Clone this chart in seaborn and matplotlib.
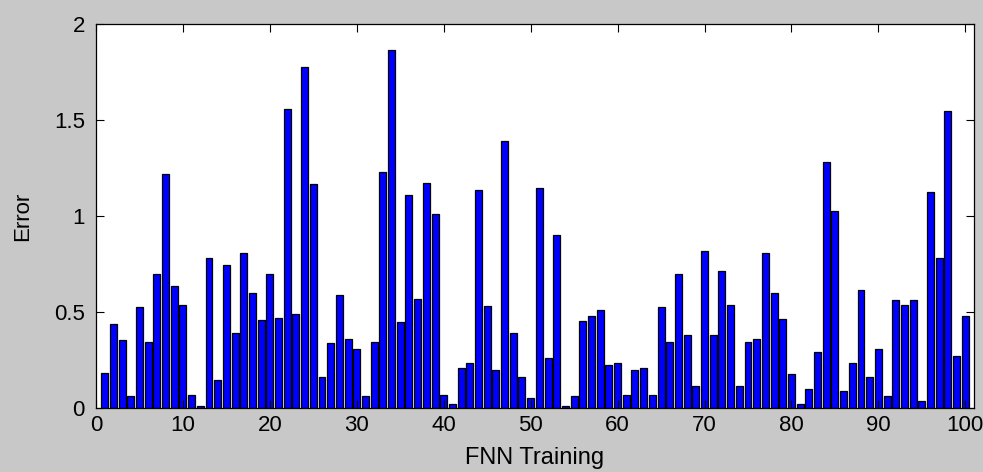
import matplotlib
matplotlib.use("Agg")
import matplotlib.pyplot as plt
import seaborn as sns
import pandas as pd

# ---- data ----
runs = list(range(1, 101))
errors = [
    0.18, 0.436, 0.352, 0.06, 0.526, 0.344, 0.70, 1.219, 0.635, 0.536,
    0.07, 0.01, 0.781, 0.144, 0.746, 0.39, 0.807, 0.599, 0.46, 0.70,
    0.469, 1.557, 0.49, 1.774, 1.167, 0.16, 0.339, 0.59, 0.361, 0.307,
    0.06, 0.344, 1.229, 1.866, 0.446, 1.109, 0.569, 1.172, 1.009, 0.069,
    0.023, 0.208, 0.234, 1.137, 0.53, 0.20, 1.392, 0.39, 0.161, 0.052,
    1.144, 0.26, 0.899, 0.01, 0.06, 0.455, 0.481, 0.509, 0.226, 0.234,
    0.069, 0.2, 0.208, 0.07, 0.526, 0.344, 0.70, 0.382, 0.116, 0.819,
    0.378, 0.715, 0.538, 0.116, 0.344, 0.361, 0.807, 0.599, 0.464, 0.179,
    0.023, 0.099, 0.29, 1.283, 1.028, 0.09, 0.234, 0.616, 0.161, 0.307,
    0.06, 0.5625, 0.536, 0.5625, 0.035, 1.127, 0.78, 1.549, 0.272, 0.481,
]
x_ticks = [0, 10, 20, 30, 40, 50, 60, 70, 80, 90, 100]
y_ticks = [0, 0.5, 1, 1.5, 2]
y_tick_labels = ["0", "0.5", "1", "1.5", "2"]
x_label = "FNN Training"
y_label = "Error"

df = pd.DataFrame({"run": runs, "error": errors})

plt.rcParams["font.family"] = ["Liberation Sans", "DejaVu Sans"]

fig = plt.figure(figsize=(9.83, 4.72), dpi=100, facecolor="#c8c8c8")
ax = fig.add_axes([96 / 983, 1 - 408 / 472, (974 - 96) / 983, (408 - 24) / 472])
ax.set_facecolor("white")

sns.barplot(data=df, x="run", y="error", native_scale=True, color="blue",
            saturation=1, edgecolor="black", linewidth=0.9, width=0.8, ax=ax)

ax.set_xlim(0, 101)
ax.set_ylim(0, 2)
ax.set_xticks(x_ticks)
ax.set_xticklabels([str(t) for t in x_ticks])
ax.set_yticks(y_ticks)
ax.set_yticklabels(y_tick_labels)
ax.tick_params(direction="in", length=6, width=0.8, top=True, right=True,
               labelsize=16, colors="black")
ax.tick_params(axis="x", pad=5)
ax.tick_params(axis="y", pad=8)
for s in ax.spines.values():
    s.set_linewidth(0.9)
    s.set_color("black")
ax.set_xlabel(x_label, fontsize=17, labelpad=8)
ax.set_ylabel(y_label, fontsize=16, labelpad=15)
ax.grid(False)

fig.savefig("out.png", dpi=100, facecolor=fig.get_facecolor())
